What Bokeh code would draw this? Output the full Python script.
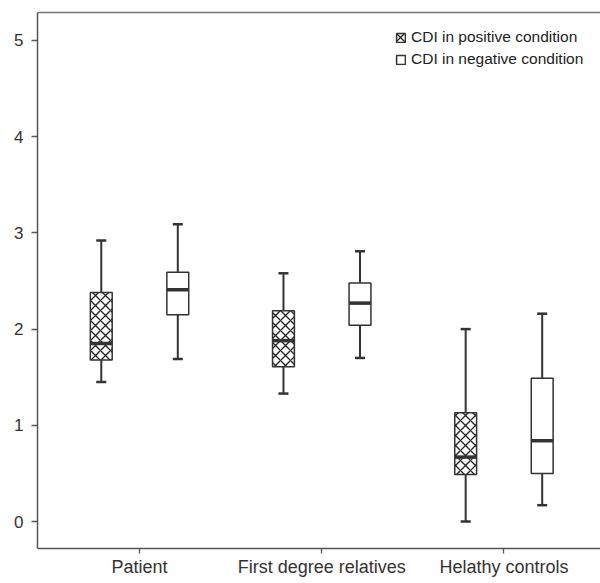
from bokeh.plotting import figure
from bokeh.models import (LinearAxis, FixedTicker, Legend, LegendItem, Range1d,
                          ColumnDataSource)
from bokeh.embed import file_html
from bokeh.resources import INLINE

groups = ["Patient", "First degree relatives", "Helathy controls"]
series = ["CDI in positive condition", "CDI in negative condition"]

# five-number summaries per group: positive condition
pos_low = [1.45, 1.33, 0.0]
pos_q1 = [1.68, 1.61, 0.49]
pos_med = [1.85, 1.88, 0.67]
pos_q3 = [2.38, 2.19, 1.13]
pos_high = [2.92, 2.58, 2.0]

# negative condition
neg_low = [1.69, 1.70, 0.17]
neg_q1 = [2.15, 2.04, 0.50]
neg_med = [2.41, 2.27, 0.84]
neg_q3 = [2.59, 2.48, 1.49]
neg_high = [3.09, 2.81, 2.16]

y_ticks = [0, 1, 2, 3, 4, 5]

INK = "#333333"
FONT = "Liberation Sans"

p = figure(width=600, height=583, output_backend="svg", toolbar_location=None,
           x_range=Range1d(-0.56, 2.53), y_range=Range1d(-0.28, 5.29),
           min_border_left=37, min_border_right=0, min_border_top=12,
           min_border_bottom=35, x_axis_location="below")
p.outline_line_color = None
p.grid.visible = False
p.background_fill_color = "#ffffff"
p.border_fill_color = "#ffffff"

xs = list(range(len(groups)))
off = 0.21
bw = 0.12
cap = 0.055

def draw(sign, low, q1, med, q3, high, hatch):
    x = [i + sign * off for i in xs]
    src = ColumnDataSource(dict(x=x, low=low, q1=q1, med=med, q3=q3, high=high,
                                cl=[v - cap / 2 for v in x], cr=[v + cap / 2 for v in x],
                                bl=[v - bw / 2 for v in x], br=[v + bw / 2 for v in x]))
    p.segment("x", "high", "x", "q3", source=src, line_color=INK, line_width=2)
    p.segment("x", "low", "x", "q1", source=src, line_color=INK, line_width=2)
    p.segment("cl", "high", "cr", "high", source=src, line_color=INK, line_width=2.5)
    p.segment("cl", "low", "cr", "low", source=src, line_color=INK, line_width=2.5)
    kw = dict(fill_color="white", line_color=INK, line_width=1.5)
    if hatch:
        kw.update(hatch_pattern="diagonal_cross", hatch_color="#222222",
                  hatch_scale=10, hatch_weight=1.3)
    r = p.vbar(x="x", width=bw, top="q3", bottom="q1", source=src, **kw)
    p.segment("bl", "med", "br", "med", source=src, line_color=INK, line_width=3.5)
    return r

r_pos = draw(-1, pos_low, pos_q1, pos_med, pos_q3, pos_high, True)
r_neg = draw(1, neg_low, neg_q1, neg_med, neg_q3, neg_high, False)

legend = Legend(items=[LegendItem(label=series[0], renderers=[r_pos]),
                       LegendItem(label=series[1], renderers=[r_neg])],
                location=(358, 480), glyph_width=11, glyph_height=11,
                label_height=17, spacing=4, label_standoff=5, padding=2, margin=0,
                border_line_color=None, background_fill_alpha=0,
                label_text_font=FONT, label_text_font_size="15.5px",
                label_text_color="#222222")
p.add_layout(legend)

# axes
xa = p.xaxis[0]
xa.ticker = FixedTicker(ticks=xs)
xa.major_label_overrides = {i: g for i, g in enumerate(groups)}
ya = p.yaxis[0]
ya.ticker = FixedTicker(ticks=y_ticks)
for ax in (xa, ya):
    ax.axis_line_color = "#555555"
    ax.axis_line_width = 1.5
    ax.major_tick_line_color = "#555555"
    ax.major_tick_line_width = 1.3
    ax.major_tick_in = 0
    ax.major_tick_out = 6
    ax.minor_tick_line_color = None
    ax.major_label_text_font = FONT
    ax.major_label_text_color = "#333333"
xa.major_label_text_font_size = "18px"
ya.major_label_text_font_size = "17px"
xa.major_tick_out = 5
xa.major_label_standoff = 3
ya.major_label_standoff = 8

top = LinearAxis(ticker=FixedTicker(ticks=[]), major_label_text_font_size="0px",
                 major_tick_out=0, major_tick_in=0, minor_tick_out=0, minor_tick_in=0,
                 axis_line_color="#777777", axis_line_width=1.5, major_label_standoff=0)
p.add_layout(top, "above")

open("out.html", "w").write(file_html(p, INLINE))
